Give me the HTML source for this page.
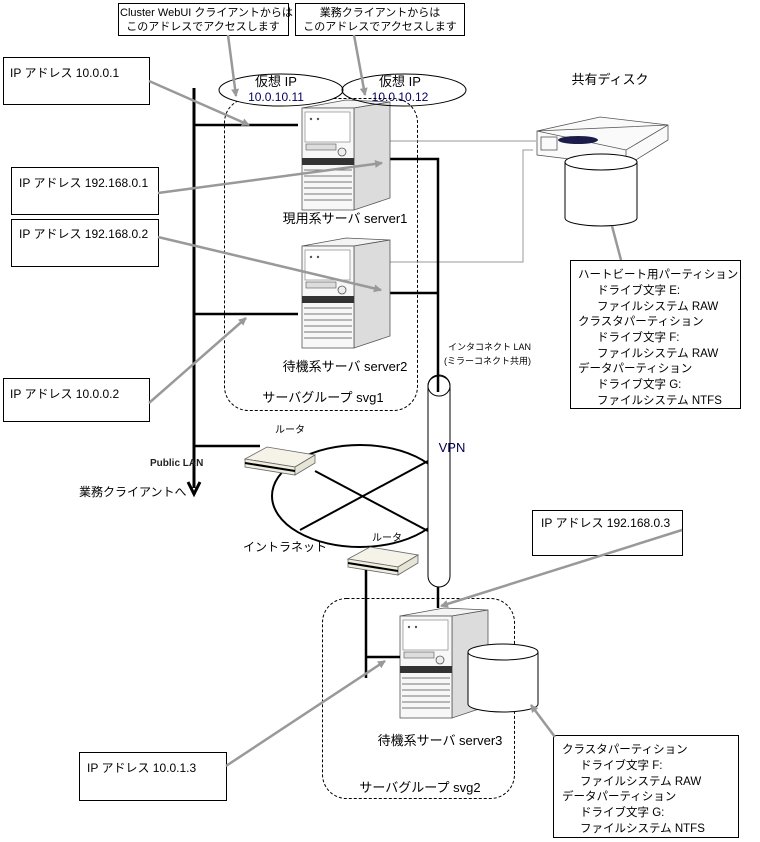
<!DOCTYPE html>
<html><head><meta charset="utf-8"><style>
html,body{margin:0;padding:0;background:#fff}
svg{display:block}
text{font-family:"Liberation Sans","Noto Sans CJK JP",sans-serif;fill:#000}
</style></head><body>
<svg width="760" height="842" viewBox="0 0 760 842" xmlns="http://www.w3.org/2000/svg">
<defs>
<marker id="ga" markerWidth="8" markerHeight="8" refX="7" refY="4" orient="auto" markerUnits="userSpaceOnUse">
<path d="M0,0 L8,4 L0,8 Z" fill="#999"/></marker>
<g id="srv">
<polygon points="0,8 44,0 88,2 52,8" fill="#f4f4f4" stroke="#555" stroke-width="0.8"/>
<polygon points="52,8 88,2 88,98 52,110" fill="#dcdcdc" stroke="#555" stroke-width="0.8"/>
<rect x="0" y="8" width="52" height="102" fill="#f7f7f7" stroke="#555" stroke-width="0.8"/>
<rect x="3" y="12" width="45" height="30" fill="#fff" stroke="#777" stroke-width="0.6"/>
<circle cx="9" cy="19" r="1.2" fill="#555"/><circle cx="16" cy="19" r="1.2" fill="#555"/>
<rect x="4" y="44" width="30" height="6" fill="#ddd" stroke="#555" stroke-width="0.6"/>
<circle cx="40" cy="52" r="4" fill="#eee" stroke="#555" stroke-width="0.8"/>
<rect x="0" y="58" width="52" height="7" fill="#333"/>
<line x1="2" y1="70" x2="50" y2="70" stroke="#777"/>
<line x1="2" y1="76" x2="50" y2="76" stroke="#777"/>
<line x1="2" y1="82" x2="50" y2="82" stroke="#777"/>
<line x1="2" y1="88" x2="50" y2="88" stroke="#777"/>
<line x1="2" y1="94" x2="50" y2="94" stroke="#777"/>
<line x1="2" y1="100" x2="50" y2="100" stroke="#777"/>
</g>
<g id="rtr">
<polygon points="0,12 22,0 70,8 50,20" fill="#f5f3e8" stroke="#666" stroke-width="0.8"/>
<polygon points="0,12 50,20 50,28 0,20" fill="#f0eedf" stroke="#666" stroke-width="0.8"/>
<polygon points="50,20 70,8 70,16 50,28" fill="#e6e4d4" stroke="#666" stroke-width="0.8"/>
<line x1="0" y1="16" x2="50" y2="24" stroke="#000" stroke-width="2"/>
</g>
</defs>

<rect x="118.5" y="3.5" width="170" height="32" fill="#fff" stroke="#000"/>
<text x="120" y="16" font-size="11">Cluster WebUI クライアントからは</text>
<text x="203" y="30" font-size="11" text-anchor="middle">このアドレスでアクセスします</text>
<rect x="295.5" y="3.5" width="169" height="32" fill="#fff" stroke="#000"/>
<text x="380" y="16" font-size="11" text-anchor="middle">業務クライアントからは</text>
<text x="380" y="30" font-size="11" text-anchor="middle">このアドレスでアクセスします</text>

<rect x="3.5" y="57.5" width="146" height="47" fill="#fff" stroke="#000"/>
<text x="10" y="77" font-size="12">IP アドレス  10.0.0.1</text>
<rect x="11.5" y="167.5" width="147" height="47" fill="#fff" stroke="#000"/>
<text x="19" y="187" font-size="12">IP アドレス  192.168.0.1</text>
<rect x="11.5" y="219.5" width="147" height="47" fill="#fff" stroke="#000"/>
<text x="19" y="238" font-size="12">IP アドレス  192.168.0.2</text>
<rect x="3.5" y="378.5" width="146" height="43" fill="#fff" stroke="#000"/>
<text x="10" y="398" font-size="12">IP アドレス  10.0.0.2</text>
<rect x="79.5" y="752.5" width="147" height="48" fill="#fff" stroke="#000"/>
<text x="87" y="772" font-size="12">IP アドレス  10.0.1.3</text>
<rect x="532.5" y="510.5" width="150" height="45" fill="#fff" stroke="#000"/>
<text x="541" y="527" font-size="12">IP アドレス  192.168.0.3</text>

<rect x="224.5" y="98.5" width="193" height="312" rx="24" fill="none" stroke="#000" stroke-dasharray="3,2"/>
<rect x="322.5" y="598.5" width="192" height="200" rx="24" fill="none" stroke="#000" stroke-dasharray="3,2"/>

<line x1="194" y1="88" x2="194" y2="488" stroke="#000" stroke-width="3"/>
<path d="M188,482 L194,494 L200,482" fill="none" stroke="#000" stroke-width="3"/>
<line x1="194" y1="125" x2="298" y2="125" stroke="#000" stroke-width="2.5"/>
<line x1="194" y1="314" x2="298" y2="314" stroke="#000" stroke-width="2.5"/>
<line x1="194" y1="446" x2="260" y2="446" stroke="#000" stroke-width="2.5"/>
<text x="150" y="466" font-size="10" font-weight="bold" style="fill:#222">Public LAN</text>
<text x="79" y="496" font-size="12">業務クライアントへ</text>

<polyline points="390,141 536,141" fill="none" stroke="#999" stroke-width="1"/>
<polyline points="390,262 523,262 523,150 533,150" fill="none" stroke="#999" stroke-width="1"/>

<polyline points="390,159 438,159 438,385" fill="none" stroke="#000" stroke-width="2.5"/>
<line x1="390" y1="293" x2="438" y2="293" stroke="#000" stroke-width="2.5"/>
<text x="448" y="350" font-size="9">インタコネクト LAN</text>
<text x="444" y="364" font-size="9">(ミラーコネクト共用)</text>

<use href="#srv" x="302" y="100"/>
<use href="#srv" x="302" y="238"/>
<use href="#srv" x="400" y="608"/>
<text x="345" y="223" font-size="13" text-anchor="middle">現用系サーバ server1</text>
<text x="345" y="371" font-size="13" text-anchor="middle">待機系サーバ server2</text>
<text x="323" y="402" font-size="13" text-anchor="middle">サーバグループ  svg1</text>
<text x="440" y="745" font-size="13" text-anchor="middle">待機系サーバ server3</text>
<text x="420" y="792" font-size="13" text-anchor="middle">サーバグループ  svg2</text>

<ellipse cx="281" cy="90" rx="62" ry="16" fill="#fff" stroke="#000"/>
<ellipse cx="404" cy="90" rx="62" ry="16" fill="none" stroke="#000"/>
<text x="276" y="86" font-size="13" text-anchor="middle">仮想 IP</text>
<text x="276" y="101" font-size="12" text-anchor="middle" style="fill:#000060">10.0.10.11</text>
<text x="400" y="86" font-size="13" text-anchor="middle">仮想 IP</text>
<text x="400" y="101" font-size="12" text-anchor="middle" style="fill:#000060">10.0.10.12</text>

<text x="610" y="84" font-size="13" text-anchor="middle">共有ディスク</text>
<polygon points="537,131 600,117 668,125 668,140 626,166 537,155" fill="#fafafa" stroke="#555" stroke-width="0.8"/>
<polygon points="537,131 626,150 668,125" fill="none" stroke="#555" stroke-width="0.8"/>
<line x1="626" y1="150" x2="626" y2="166" stroke="#555" stroke-width="0.8"/>
<ellipse cx="578" cy="140" rx="20" ry="4" fill="#1c1c4a"/>
<rect x="541" y="137" width="16" height="13" fill="none" stroke="#555" stroke-width="0.8"/>
<path d="M565,162 L565,218 A36,8 0 0 0 637,218 L637,162" fill="#fff" stroke="#000"/>
<ellipse cx="601" cy="162" rx="36" ry="8" fill="#fff" stroke="#000"/>
<line x1="612" y1="226" x2="621" y2="260" stroke="#999" stroke-width="2.5"/>
<rect x="570.5" y="260.5" width="170" height="148" fill="#fff" stroke="#000"/>
<g font-size="11.5">
<text x="578" y="278">ハートビート用パーティション</text>
<text x="597" y="294">ドライブ文字  E:</text>
<text x="597" y="310">ファイルシステム  RAW</text>
<text x="578" y="325">クラスタパーティション</text>
<text x="597" y="341">ドライブ文字  F:</text>
<text x="597" y="357">ファイルシステム  RAW</text>
<text x="578" y="372">データパーティション</text>
<text x="597" y="388">ドライブ文字  G:</text>
<text x="597" y="404">ファイルシステム  NTFS</text>
</g>

<ellipse cx="360" cy="496" rx="88" ry="51" fill="none" stroke="#000" stroke-width="2"/>
<line x1="315" y1="471" x2="428" y2="531" stroke="#000" stroke-width="2"/>
<line x1="300" y1="530" x2="428" y2="461" stroke="#000" stroke-width="2"/>
<use href="#rtr" x="245" y="447"/>
<use href="#rtr" x="348" y="547"/>
<text x="290" y="433" font-size="10" text-anchor="middle">ルータ</text>
<text x="387" y="541" font-size="10" text-anchor="middle">ルータ</text>
<text x="285" y="551" font-size="12" text-anchor="middle">イントラネット</text>

<rect x="428" y="375" width="22" height="212" rx="11" fill="#fff" stroke="#000"/>
<ellipse cx="439" cy="386" rx="11" ry="10" fill="none" stroke="#000"/>
<line x1="438" y1="375" x2="438" y2="392" stroke="#000" stroke-width="2.5"/>
<text x="452" y="452" font-size="13" text-anchor="middle" style="fill:#000050">VPN</text>
<line x1="438" y1="587" x2="438" y2="608" stroke="#000" stroke-width="2.5"/>

<line x1="366" y1="570" x2="366" y2="678" stroke="#000" stroke-width="2.5"/>
<line x1="366" y1="657" x2="400" y2="657" stroke="#000" stroke-width="2.5"/>

<path d="M468,652 L468,704 A35,8 0 0 0 538,704 L538,652" fill="#fff" stroke="#000"/>
<ellipse cx="503" cy="652" rx="35" ry="8" fill="#fff" stroke="#000"/>
<rect x="553.5" y="735.5" width="185" height="102" fill="#fff" stroke="#000"/>
<g font-size="11.5">
<text x="562" y="753">クラスタパーティション</text>
<text x="580" y="769">ドライブ文字  F:</text>
<text x="580" y="785">ファイルシステム  RAW</text>
<text x="562" y="800">データパーティション</text>
<text x="580" y="816">ドライブ文字  G:</text>
<text x="580" y="832">ファイルシステム  NTFS</text>
</g>

<g stroke="#999" stroke-width="2.5" fill="none" marker-end="url(#ga)">
<line x1="228" y1="35" x2="236" y2="96"/>
<line x1="354" y1="35" x2="365" y2="95"/>
<line x1="149" y1="81" x2="249" y2="125"/>
<line x1="158" y1="193" x2="382" y2="163"/>
<line x1="158" y1="237" x2="381" y2="290"/>
<line x1="149" y1="403" x2="246" y2="318"/>
<line x1="226" y1="766" x2="385" y2="661"/>
<line x1="682" y1="530" x2="441" y2="606"/>
<line x1="555" y1="737" x2="531" y2="705"/>
</g>
</svg>
</body></html>
